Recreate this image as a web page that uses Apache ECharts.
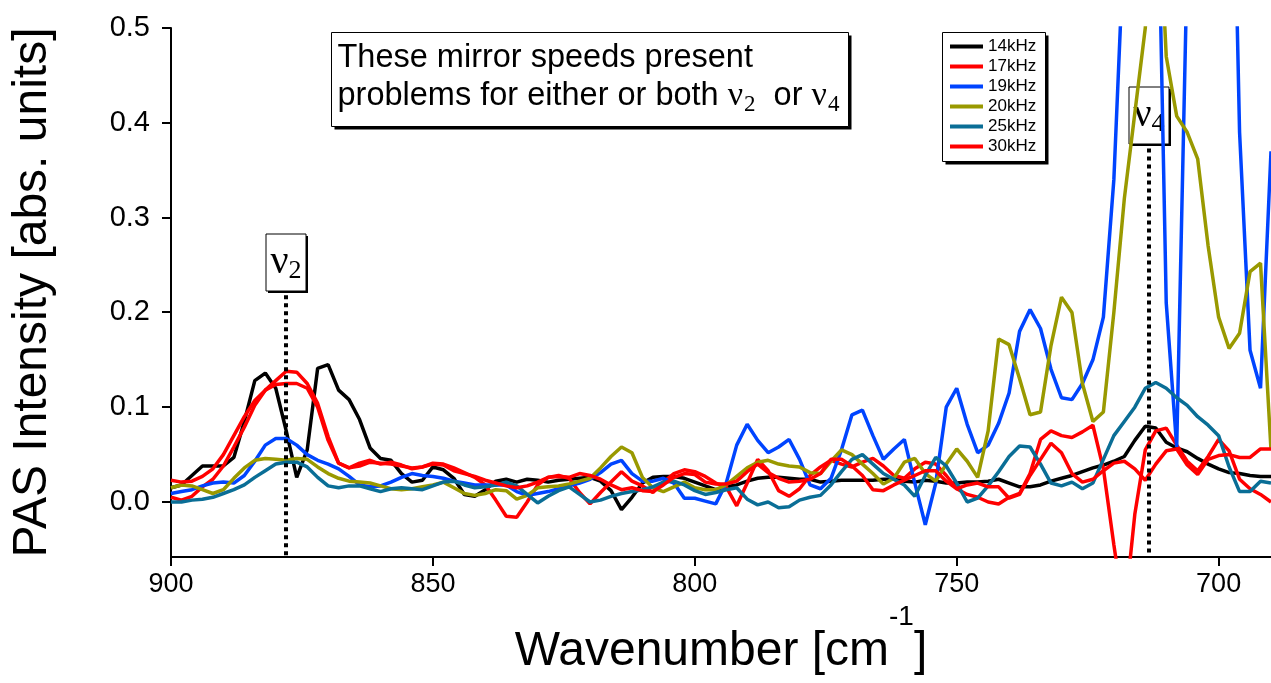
<!DOCTYPE html>
<html><head><meta charset="utf-8">
<script src="https://cdn.jsdelivr.net/npm/echarts@6/dist/echarts.min.js"></script>
<style>html,body{margin:0;padding:0;background:#fff}#c{width:1271px;height:683px}</style>
</head><body><div id="c"></div>
<script>
// ---- data ----
const wavenumber = [900,898,896,894,892,890,888,886,884,882,
880,878,876,874,872,870,868,866,864,862,
860,858,856,854,852,850,848,846,844,842,
840,838,836,834,832,830,828,826,824,822,
820,818,816,814,812,810,808,806,804,802,
800,798,796,794,792,790,788,786,784,782,
780,778,776,774,772,770,768,766,764,762,
760,758,756,754,752,750,748,746,744,742,
740,738,736,734,732,730,728,726,724,722,
720,718,716,714,712,710,708,706,704,702,
700,698,696,694,692,690];

const s14 = [0.015,0.018,0.028,0.038,0.038,0.038,0.047,0.085,0.128,0.136,
0.120,0.075,0.026,0.055,0.141,0.145,0.118,0.108,0.087,0.057,
0.046,0.044,0.030,0.021,0.023,0.037,0.034,0.025,0.008,0.006,
0.013,0.022,0.024,0.021,0.024,0.023,0.021,0.023,0.024,0.025,
0.026,0.022,0.012,-0.008,0.005,0.020,0.026,0.027,0.027,0.025,
0.021,0.017,0.013,0.016,0.018,0.022,0.025,0.026,0.026,0.025,
0.024,0.024,0.021,0.022,0.023,0.023,0.023,0.023,0.024,0.024,
0.022,0.021,0.023,0.022,0.020,0.020,0.021,0.021,0.022,0.024,
0.020,0.016,0.016,0.018,0.022,0.025,0.028,0.032,0.036,0.039,
0.043,0.048,0.065,0.080,0.078,0.063,0.057,0.053,0.046,0.040,
0.035,0.031,0.030,0.028,0.027,0.027];

const s17 = [0.005,0.002,0.006,0.016,0.024,0.038,0.058,0.079,0.102,0.118,
0.128,0.138,0.137,0.125,0.104,0.069,0.041,0.036,0.041,0.044,
0.040,0.042,0.039,0.035,0.037,0.041,0.040,0.036,0.031,0.026,
0.018,0.002,-0.015,-0.016,0.000,0.018,0.026,0.028,0.025,0.010,
-0.002,0.010,0.021,0.032,0.022,0.017,0.010,0.021,0.030,0.034,
0.032,0.027,0.020,0.016,-0.004,0.020,0.045,0.033,0.012,0.006,
0.014,0.028,0.037,0.044,0.040,0.037,0.042,0.046,0.038,0.028,
0.025,0.035,0.042,0.040,0.028,0.014,0.008,0.005,0.000,-0.002,
0.005,0.009,0.030,0.066,0.075,0.070,0.068,0.074,0.081,0.035,
-0.045,-0.120,-0.013,0.055,0.075,0.078,0.060,0.043,0.033,0.048,
0.066,0.054,0.024,0.014,0.008,0.000];

const s19 = [0.009,0.011,0.013,0.017,0.020,0.021,0.020,0.028,0.043,0.060,
0.067,0.067,0.060,0.050,0.044,0.040,0.035,0.027,0.018,0.016,
0.017,0.021,0.026,0.030,0.028,0.027,0.025,0.022,0.020,0.018,
0.018,0.018,0.018,0.011,0.007,0.009,0.011,0.014,0.017,0.020,
0.024,0.031,0.040,0.044,0.030,0.022,0.022,0.025,0.020,0.004,
0.004,0.001,-0.002,0.020,0.060,0.082,0.065,0.052,0.058,0.066,
0.045,0.018,0.014,0.025,0.055,0.092,0.097,0.070,0.045,0.056,
0.066,0.020,-0.024,0.020,0.100,0.120,0.082,0.052,0.060,0.083,
0.115,0.180,0.203,0.183,0.140,0.110,0.108,0.125,0.150,0.195,
0.340,0.600,1.000,1.000,0.770,0.210,0.058,0.570,0.900,0.900,
0.900,0.900,0.390,0.160,0.120,0.370];

const s20 = [0.015,0.018,0.017,0.013,0.009,0.013,0.025,0.036,0.044,0.046,
0.045,0.044,0.046,0.045,0.037,0.030,0.025,0.022,0.021,0.020,
0.017,0.014,0.013,0.014,0.016,0.018,0.021,0.015,0.009,0.007,
0.009,0.013,0.012,0.003,0.007,0.015,0.016,0.017,0.019,0.022,
0.025,0.036,0.048,0.058,0.052,0.026,0.015,0.011,0.016,0.021,
0.015,0.013,0.013,0.018,0.027,0.036,0.042,0.044,0.040,0.038,
0.037,0.031,0.030,0.043,0.055,0.050,0.040,0.030,0.019,0.025,
0.042,0.046,0.030,0.022,0.040,0.056,0.043,0.026,0.075,0.172,
0.166,0.130,0.092,0.095,0.165,0.216,0.200,0.125,0.085,0.095,
0.200,0.320,0.410,0.500,0.700,0.470,0.407,0.390,0.362,0.270,
0.195,0.162,0.178,0.243,0.252,0.055];

const s25 = [0.000,0.000,0.002,0.003,0.005,0.009,0.013,0.018,0.026,0.033,
0.040,0.042,0.042,0.037,0.026,0.017,0.015,0.017,0.017,0.014,
0.011,0.014,0.015,0.014,0.013,0.017,0.021,0.022,0.018,0.015,
0.016,0.018,0.021,0.017,0.008,-0.001,0.006,0.012,0.016,0.008,
0.000,0.002,0.006,0.009,0.011,0.013,0.016,0.021,0.022,0.018,
0.012,0.008,0.010,0.013,0.015,0.003,-0.003,0.000,-0.006,-0.005,
0.002,0.005,0.007,0.018,0.032,0.045,0.050,0.040,0.030,0.024,
0.018,0.006,0.028,0.047,0.038,0.020,0.000,0.004,0.017,0.032,
0.048,0.059,0.058,0.040,0.020,0.017,0.021,0.014,0.020,0.045,
0.070,0.085,0.100,0.120,0.126,0.120,0.110,0.102,0.090,0.081,
0.070,0.037,0.011,0.011,0.022,0.020];

const s30 = [0.023,0.021,0.022,0.027,0.035,0.050,0.070,0.090,0.107,0.118,
0.124,0.125,0.125,0.120,0.100,0.065,0.041,0.036,0.038,0.042,
0.041,0.040,0.038,0.036,0.037,0.040,0.039,0.033,0.030,0.027,
0.023,0.020,0.017,0.015,0.017,0.021,0.026,0.027,0.026,0.030,
0.028,0.024,0.018,0.013,0.015,0.012,0.011,0.018,0.026,0.030,
0.029,0.021,0.019,0.019,0.022,0.032,0.040,0.031,0.025,0.021,
0.022,0.024,0.030,0.045,0.045,0.038,0.028,0.013,0.012,0.018,
0.023,0.028,0.033,0.033,0.022,0.014,0.018,0.020,0.016,0.016,
0.004,0.008,0.028,0.045,0.062,0.052,0.030,0.021,0.024,0.033,
0.041,0.043,0.035,0.023,0.040,0.054,0.056,0.039,0.029,0.045,
0.049,0.050,0.047,0.047,0.056,0.056];

const seriesNames = ['14kHz','17kHz','19kHz','20kHz','25kHz','30kHz'];
const seriesValues = [s14, s17, s19, s20, s25, s30];
const xTicks = [900, 850, 800, 750, 700];
const yTicks = [0, 0.1, 0.2, 0.3, 0.4, 0.5];
// vibrational band markers: wavenumber and top of dotted line (in intensity units)
const bandLabels = ['2', '4'];
const bandX = [878, 713.3];
const bandTop = [0.218, 0.373];

// ---- styles ----
const colors = ['#000000', '#ff0000', '#0044ff', '#999900', '#0a6e96', '#ff0000'];
const SANS = 'Liberation Sans, Arial, sans-serif';
const SERIF = 'Liberation Serif, Times New Roman, serif';
const X_MIN = 690, X_MAX = 900, Y_MIN = -0.058, Y_MAX = 0.5;
const TICK_LEN = 9;

const chart = echarts.init(document.getElementById('c'));

const series = seriesNames.map((n, i) => ({
  name: n, type: 'line', symbol: 'none', showSymbol: false, animation: false,
  data: wavenumber.map((x, k) => [x, seriesValues[i][k]]),
  lineStyle: {width: 3.5, color: colors[i]}, itemStyle: {color: colors[i]},
  clip: true
}));
// dotted band markers
series.push({
  type: 'line', data: [], silent: true, animation: false,
  markLine: {
    symbol: ['none', 'none'], silent: true, animation: false,
    label: {show: false},
    lineStyle: {type: [4, 4], width: 4, color: '#000'},
    data: bandX.map((x, i) => [{coord: [x, bandTop[i]]}, {coord: [x, Y_MIN]}])
  }
});

chart.setOption({
  animation: false,
  backgroundColor: '#fff',
  grid: {left: 171, right: 0, top: 28, bottom: 126, containLabel: false, outerBoundsMode: 'none'},
  xAxis: {
    type: 'value', inverse: true, min: X_MIN, max: X_MAX,
    axisLine: {show: true, onZero: false, lineStyle: {color: '#000', width: 2}},
    axisTick: {show: false},
    axisLabel: {color: '#000', fontSize: 27, fontFamily: SANS, margin: 14, customValues: xTicks},
    splitLine: {show: false},
    name: '{m|Wavenumber [cm}{sup|-1}{m|]}',
    nameLocation: 'middle', nameGap: 45,
    nameTextStyle: {
      rich: {
        m: {fontSize: 48, fontFamily: SANS, color: '#000'},
        sup: {fontSize: 28, fontFamily: SANS, color: '#000', padding: [0, 0, 70, 0]}
      }
    }
  },
  yAxis: {
    type: 'value', min: Y_MIN, max: Y_MAX,
    axisLine: {show: true, onZero: false, lineStyle: {color: '#000', width: 2}},
    axisTick: {show: false},
    axisLabel: {color: '#000', fontSize: 29, fontFamily: SANS, margin: 21, customValues: yTicks,
      formatter: v => v.toFixed(1)},
    splitLine: {show: false},
    name: 'PAS Intensity [abs. units]', nameLocation: 'middle', nameGap: 114,
    nameTextStyle: {fontSize: 48, fontFamily: SANS, color: '#000'}
  },
  legend: {
    orient: 'vertical', left: 942, top: 32, z: 10,
    data: seriesNames,
    itemWidth: 33, itemHeight: 4, itemGap: 3,
    padding: [6, 9, 6, 6],
    lineStyle: {width: 4},
    textStyle: {fontSize: 17, lineHeight: 17, fontFamily: SANS, color: '#000'},
    selectedMode: false
  },
  series: series
});

function buildGraphics() {
  const g = [];
  const toPx = v => chart.convertToPixel({xAxisIndex: 0, yAxisIndex: 0}, v);
  const origin = toPx([X_MAX, Y_MIN]);
  // outward axis ticks on their own canvas layer, positioned through the axis scales
  const tickChildren = [];
  xTicks.forEach(t => {
    const p = toPx([t, Y_MIN]);
    tickChildren.push({type: 'rect', shape: {x: Math.round(p[0]) - 1, y: Math.round(origin[1]), width: 2, height: TICK_LEN},
      style: {fill: '#000', stroke: '#000', lineWidth: 0}});
  });
  yTicks.forEach(t => {
    const p = toPx([X_MAX, t]);
    tickChildren.push({type: 'rect', shape: {x: Math.round(origin[0]) - TICK_LEN, y: Math.round(p[1]) - 1, width: TICK_LEN, height: 2},
      style: {fill: '#000', stroke: '#000', lineWidth: 0}});
  });
  g.push({type: 'group', id: 'ticks', x: 0, y: 0, zlevel: 1, z: 100, silent: true, children: tickChildren});
  // legend frame with drop shadow
  g.push({
    type: 'group', left: 942, top: 32, z: 1,
    children: [
      {type: 'rect', shape: {x: 3, y: 3, width: 103, height: 129}, style: {fill: '#000'}},
      {type: 'rect', shape: {x: 0, y: 0, width: 103, height: 129}, style: {fill: '#fff', stroke: '#000', lineWidth: 1}}
    ]
  });
  // text note box
  g.push({
    type: 'group', left: 331, top: 32, z: 5,
    children: [
      {type: 'rect', shape: {x: 3, y: 3, width: 517, height: 94}, style: {fill: '#000'}},
      {type: 'rect', shape: {x: 0, y: 0, width: 517, height: 94}, style: {fill: '#fff', stroke: '#000', lineWidth: 1}},
      {type: 'text', x: 6, y: 45, style: {
        text: '{t|These mirror speeds present}\n{t|problems for either or both }{nu|ν}{sub|2}{t|  or }{nu|ν}{sub|4}',
        verticalAlign: 'middle', align: 'left',
        rich: {
          t: {fontSize: 32.5, fontFamily: SANS, fill: '#000', lineHeight: 38},
          nu: {fontSize: 34, fontFamily: SERIF, fill: '#000', lineHeight: 38},
          sub: {fontSize: 23, fontFamily: SERIF, fill: '#000', lineHeight: 23, padding: [16, 0, 0, 1]}
        }
      }}
    ]
  });
  // band label boxes
  bandX.forEach((x, i) => {
    const p = toPx([x, bandTop[i]]);
    const w = 40, h = 57;
    const bx = Math.round(p[0] - w / 2), by = Math.round(p[1] - 4 - h);
    g.push({
      type: 'group', x: bx, y: by, z: 5,
      children: [
        {type: 'rect', shape: {x: 2, y: 2, width: w, height: h}, style: {fill: '#000'}},
        {type: 'rect', shape: {x: 0, y: 0, width: w, height: h}, style: {fill: '#fff', stroke: '#000', lineWidth: 1}},
        {type: 'text', x: w / 2, y: h / 2, style: {
          text: '{nu|ν}{sub|' + bandLabels[i] + '}', align: 'center', verticalAlign: 'middle',
          rich: {
            nu: {fontSize: 40, fontFamily: SERIF, fill: '#000', lineHeight: 44},
            sub: {fontSize: 26, fontFamily: SERIF, fill: '#000', lineHeight: 26, padding: [18, 0, 0, 0]}
          }
        }}
      ]
    });
  });
  chart.setOption({graphic: g});
}
buildGraphics();
</script>
</body></html>
